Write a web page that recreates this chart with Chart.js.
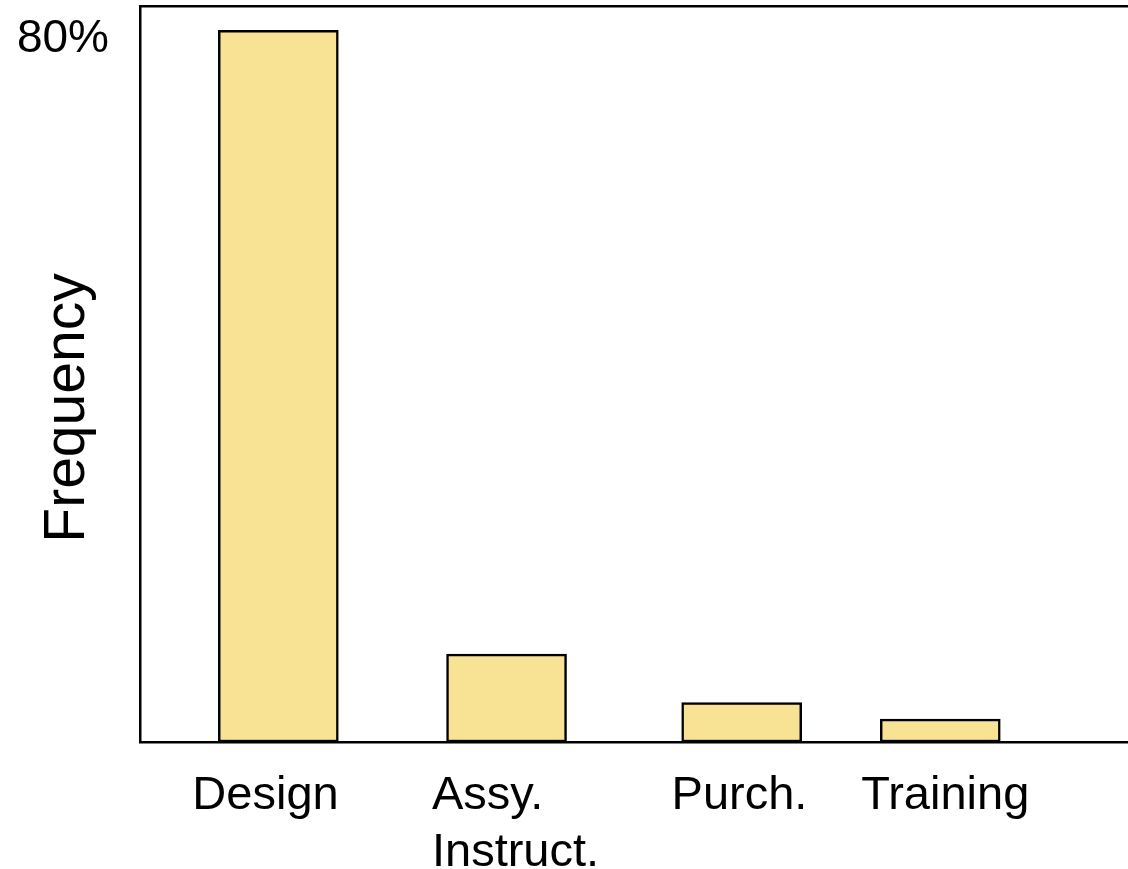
<!DOCTYPE html>
<html>
<head>
<meta charset="utf-8">
<script src="https://cdn.jsdelivr.net/npm/chart.js@4/dist/chart.umd.min.js"></script>
<style>
  html, body { margin: 0; padding: 0; background: #ffffff; overflow: hidden; }
  #wrap { position: relative; width: 1128px; height: 869px; }
</style>
</head>
<body>
<div id="wrap"><canvas id="chart"></canvas></div>
<script>
// Share of issues by source
const categories = ['Design', ['Assy.', 'Instruct.'], 'Purch.', 'Training'];
const frequency = [81, 10, 4.5, 2.6];            // percent
const barPositions = [1.40, 3.71, 6.09, 8.10];   // positions on the 0–10 horizontal axis
const labelPositions = [0.53, 2.955, 5.38, 7.30];// left edge of each category label
const yTickValues = [80];
const yTickLabels = ['80%'];

const FONT = '"Liberation Sans", Arial, Helvetica, sans-serif';

// Rotated axis title drawn beside the value axis
const yAxisTitle = {
  id: 'yAxisTitle',
  afterDraw(chart) {
    const { ctx, chartArea } = chart;
    ctx.save();
    ctx.translate(84, (chartArea.top + chartArea.bottom) / 2 + 34);
    ctx.rotate(-Math.PI / 2);
    ctx.font = '57px ' + FONT;
    ctx.fillStyle = '#000000';
    ctx.textAlign = 'center';
    ctx.textBaseline = 'alphabetic';
    ctx.fillText('Frequency', 0, 0);
    ctx.restore();
  }
};

new Chart(document.getElementById('chart'), {
  type: 'bar',
  data: {
    datasets: [{
      data: barPositions.map((x, i) => ({ x: x, y: frequency[i] })),
      backgroundColor: '#f8e394',
      borderColor: '#000000',
      borderWidth: 2.5,
      borderSkipped: false,
      barThickness: 120
    }]
  },
  options: {
    responsive: true,
    maintainAspectRatio: false,
    animation: false,
    layout: { padding: { top: 6, right: 0, bottom: 0, left: 0 } },
    plugins: {
      legend: { display: false },
      tooltip: { enabled: false }
    },
    scales: {
      x: {
        type: 'linear',
        position: 'bottom',
        min: 0,
        max: 10,
        offset: false,
        grid: { display: false, drawTicks: false },
        border: { display: true, color: '#000000', width: 2.5 },
        afterBuildTicks: (scale) => { scale.ticks = labelPositions.map(v => ({ value: v })); },
        afterFit: (scale) => { scale.height = 127; scale.paddingLeft = 0; scale.paddingRight = 0; },
        ticks: {
          autoSkip: false,
          maxRotation: 0,
          minRotation: 0,
          align: 'start',
          padding: 26,
          color: '#000000',
          font: { family: FONT, size: 47, lineHeight: 1.21 },
          callback: (value, index) => categories[index]
        }
      },
      x2: {
        type: 'linear',
        position: 'top',
        min: 0,
        max: 10,
        grid: { display: false, drawTicks: false },
        border: { display: true, color: '#000000', width: 2.5 },
        ticks: { display: false },
        afterFit: (scale) => { scale.height = 0; scale.paddingLeft = 0; scale.paddingRight = 0; }
      },
      y: {
        type: 'linear',
        min: 0,
        max: 83.76,
        grid: { display: false, drawTicks: false },
        border: { display: true, color: '#000000', width: 2.5 },
        afterBuildTicks: (scale) => { scale.ticks = yTickValues.map(v => ({ value: v })); },
        afterFit: (scale) => { scale.width = 140; scale.paddingTop = 0; scale.paddingBottom = 0; },
        ticks: {
          padding: 31,
          color: '#000000',
          font: { family: FONT, size: 46 },
          callback: (value, index) => yTickLabels[index]
        }
      }
    }
  },
  plugins: [yAxisTitle]
});
</script>
</body>
</html>
